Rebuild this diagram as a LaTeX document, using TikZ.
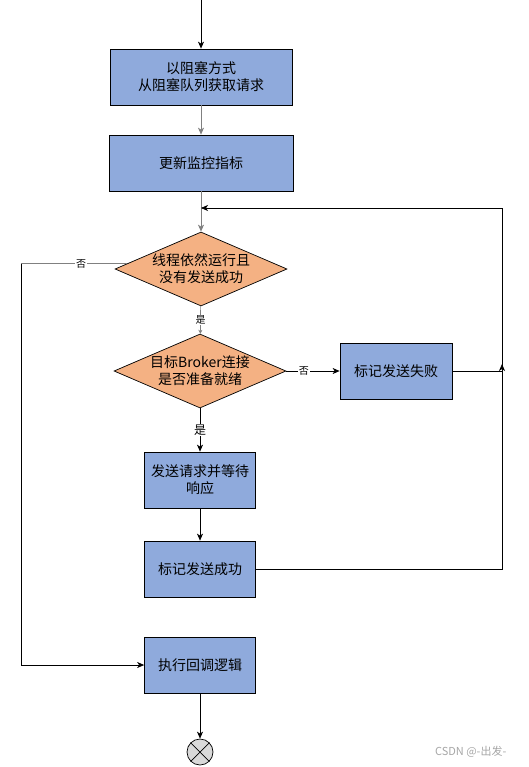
\documentclass[tikz,border=0pt]{standalone}
\usepackage{fontspec}
\setmainfont{Noto Sans CJK SC}
\usetikzlibrary{shapes.geometric, arrows.meta}

\definecolor{taskblue}{RGB}{143,170,220}
\definecolor{checkorange}{RGB}{244,177,131}

\begin{document}
\begin{tikzpicture}[x=1pt, y=-1pt, >={Stealth[length=7pt, width=6pt, inset=2pt]}, line width=0.7pt, font=\fontsize{14}{17}\selectfont]
        \useasboundingbox (0,0) rectangle (528,767);
        % Define attributes for the boxes and the checks
        \tikzstyle{task}=[rectangle, draw, fill=taskblue, minimum width=111pt, minimum height=56pt, align=center, inner sep=2pt]
        \tikzstyle{check}=[diamond, draw, fill=checkorange, aspect=2.3, inner sep=-4pt, minimum width=172pt, minimum height=74pt, align=center]
        \tikzstyle{answer}=[fill=white, inner sep=1pt, text=black, font=\fontsize{10}{12}\selectfont]

        \node[task, minimum width=182pt] (fetch) at (201,77) {以阻塞方式\\从阻塞队列获取请求};
        \node[task, minimum width=184pt] (metric) at (201,163) {更新监控指标};
        \node[check] (running) at (201,269) {线程依然运行且\\没有发送成功};
        \node[check] (ready) at (200,371) {目标Broker连接\\是否准备就绪};
        \node[task, minimum width=112pt] (failed) at (396,371) {标记发送失败};
        \node[task] (send) at (200,480) {发送请求并等待\\响应};
        \node[task] (success) at (200,569) {标记发送成功};
        \node[task] (callback) at (200,665) {执行回调逻辑};
        \node[circle, draw, fill=gray!30, minimum size=26pt, inner sep=0pt] (stop) at (200,752) {};
        \draw (stop.45) -- (stop.225) (stop.135) -- (stop.-45);

        \coordinate (entry) at (201,0);
        \coordinate (loop) at (201,208);
        \coordinate (corner) at (502,208);
        \coordinate (merge) at (502,364);
        \coordinate (leftcol) at (21,0);

        \path[->]
        (entry) edge (fetch)
        (fetch) edge[gray] (metric)
        (metric) edge[gray] (running)
        (running) edge[gray, -{Stealth[length=4pt, width=4pt]}] node[answer] {是} (ready)
        (ready) edge node[answer, pos=0.33] {否} (failed)
        (ready) edge node[answer, font=\fontsize{12}{14}\selectfont] {是} (send)
        (send) edge (success)
        (callback) edge (stop);

        % back to the check, and the way out on the left
        \draw[->] (success.east) -| (corner) -- (loop);
        \draw[->] (failed.east) -| (merge);
        \draw[gray] (running.176) -- node[answer, pos=0.43] {否} (running.176 -| leftcol);
        \draw[->] (running.176 -| leftcol) |- (callback.west);

        \node[text=gray!70, anchor=east, font=\fontsize{11}{13}\selectfont] (mark) at (510,752) {CSDN @-出发-};
\end{tikzpicture}
\end{document}
